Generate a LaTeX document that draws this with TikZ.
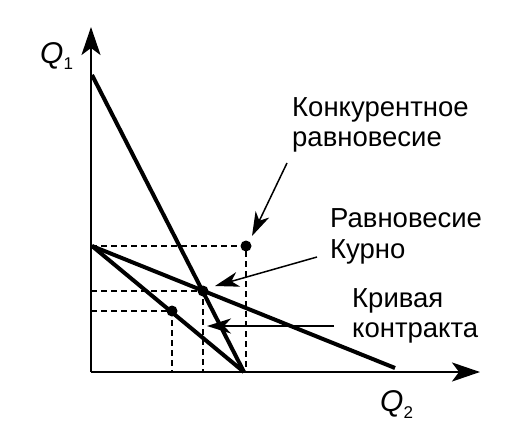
\documentclass[tikz,border=0pt]{standalone}
\usepackage{fontspec}
\setmainfont{Liberation Sans}
\usetikzlibrary{arrows.meta}
\tikzset{
  axisline/.style={line width=2.6pt, -{Stealth[length=28pt, width=19pt, inset=7pt]}},
  mainline/.style={line width=4pt},
  guide/.style={line width=1.2pt, dash pattern=on 6pt off 4pt},
  pointer/.style={line width=1.5pt, -{Stealth[length=24pt, width=15pt, inset=7pt]}},
  dot/.style={circle, fill=black, inner sep=0pt, minimum size=11pt},
  lbl/.style={anchor=base west, inner sep=0pt, font=\fontsize{27.5}{30}\selectfont},
}
\begin{document}
\begin{tikzpicture}[x=1pt, y=-1pt]
\useasboundingbox (0,0) rectangle (518,438);
% key coordinates
\coordinate (O) at (91,372);
\coordinate (Ytop) at (91,27);
\coordinate (Xend) at (480,372);
\coordinate (A) at (92,75);
\coordinate (B) at (92,246);
\coordinate (C) at (244,372);
\coordinate (D) at (395,368);
\coordinate (Py) at (91,246);
\coordinate (Px) at (246,372);
\coordinate (Ny) at (91,291);
\coordinate (Nx) at (203,372);
\coordinate (Ky) at (91,311);
\coordinate (Kx) at (172,372);
% guides
\draw[guide] (Py) -- (246,246) -- (Px);
\draw[guide] (Ny) -- (203,291) -- (Nx);
\draw[guide] (Ky) -- (172,311) -- (Kx);
% lines
\draw[mainline] (A) -- (C);
\draw[mainline] (B) -- (D);
\draw[mainline] (B) -- (C);
% axes
\draw[axisline] (O) -- (Ytop);
\draw[axisline] (O) -- (Xend);
% points
\node[dot] (P) at (246,246) {};
\node[dot] (N) at (203,291) {};
\node[dot] (K) at (172,311) {};
% axis labels
\node[anchor=base west, inner sep=0pt] (Q1) at (40,64) {{\fontsize{30}{32}\selectfont\itshape Q}\raisebox{-6pt}{\fontsize{17}{18}\selectfont 1}};
\node[anchor=base west, inner sep=0pt] (Q2) at (380,411) {{\fontsize{30}{32}\selectfont\itshape Q}\raisebox{-7pt}{\fontsize{17}{18}\selectfont 2}};
% labels
\node[lbl] (L1a) at (292,117) {Конкурентное};
\node[lbl] (L1b) at (292,147) {равновесие};
\node[lbl] (L2a) at (330,227) {Равновесие};
\node[lbl] (L2b) at (330,258) {Курно};
\node[lbl] (L3a) at (352,307) {Кривая};
\node[lbl] (L3b) at (352,337) {контракта};
% pointers
\coordinate (S1) at (287,163);
\coordinate (T1) at (252,236);
\coordinate (S2) at (317,257);
\coordinate (T2) at (215,286);
\coordinate (S3) at (334,326);
\coordinate (T3) at (207,326);
\draw[pointer] (S1) -- (T1);
\draw[pointer] (S2) -- (T2);
\draw[pointer] (S3) -- (T3);
\end{tikzpicture}
\end{document}
